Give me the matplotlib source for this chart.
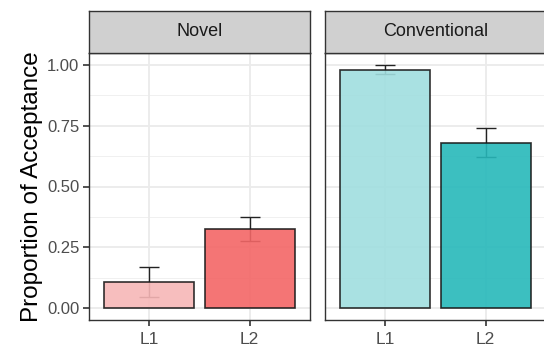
import matplotlib
matplotlib.use("Agg")
import matplotlib.pyplot as plt
import numpy as np

# data
PANELS = ["Novel", "Conventional"]
LEVELS = ["L1", "L2"]
MEANS = {"Novel": [0.105, 0.325], "Conventional": [0.98, 0.68]}
ERR_LOW = {"Novel": [0.043, 0.275], "Conventional": [0.962, 0.62]}
ERR_HIGH = {"Novel": [0.168, 0.375], "Conventional": [1.0, 0.74]}
Y_TICKS = [0.0, 0.25, 0.5, 0.75, 1.0]
Y_TICKLABELS = ["0.00", "0.25", "0.50", "0.75", "1.00"]

COLORS = {
    "Novel": ["#F7B7B7", "#F36666"],
    "Conventional": ["#A0DEDF", "#27B8BA"],
}

W, H = 544, 354
fig = plt.figure(figsize=(W / 100, H / 100), dpi=100)
plt.rcParams["font.family"] = "Liberation Sans"


def fx(px):
    return px / W


def fy(py):
    return 1 - py / H


panel_left = [89, 325]
panel_w = 221
strip_top, strip_bot, plot_bot = 11, 53, 320

for i, name in enumerate(PANELS):
    x0 = panel_left[i]
    ax = fig.add_axes([fx(x0), fy(plot_bot), panel_w / W, (plot_bot - strip_bot) / H])
    ax.set_xlim(0.4, 2.6)
    ax.set_ylim(-0.05, 1.05)
    xs = np.arange(1, len(LEVELS) + 1)

    # grid
    for y in Y_TICKS:
        ax.axhline(y, color="#EBEBEB", lw=1.3, zorder=0)
    for y in np.arange(0.125, 1.05, 0.25):
        ax.axhline(y, color="#F0F0F0", lw=0.7, zorder=0)
    for x in xs:
        ax.axvline(x, color="#EBEBEB", lw=1.3, zorder=0)

    m = np.array(MEANS[name])
    lo = np.array(ERR_LOW[name])
    hi = np.array(ERR_HIGH[name])
    ax.errorbar(xs, m, yerr=[m - lo, hi - m], fmt="none", ecolor="#222222",
                elinewidth=1.0, capsize=7.5, capthick=1.0, zorder=1)
    ax.bar(xs, m, width=0.9, color=COLORS[name], edgecolor="#1A1A1A",
           linewidth=1.2, alpha=0.9, zorder=2)

    for s in ax.spines.values():
        s.set_color("#333333")
        s.set_linewidth(1.0)

    ax.set_xticks(xs)
    ax.set_xticklabels(LEVELS, fontsize=12.5, color="#4D4D4D")
    ax.set_yticks(Y_TICKS)
    ax.tick_params(axis="both", length=4, width=1.2, color="#333333", pad=3)
    ax.tick_params(axis="x", pad=5)
    if i == 0:
        ax.set_yticklabels(Y_TICKLABELS, fontsize=12, color="#4D4D4D")
        ax.set_ylabel("Proportion of Acceptance", fontsize=17.5, color="black", labelpad=3)
    else:
        ax.set_yticklabels([])
        ax.tick_params(axis="y", length=0)

    # strip
    sax = fig.add_axes([fx(x0), fy(strip_bot), panel_w / W, (strip_bot - strip_top) / H])
    sax.set_facecolor("#D0D0D0")
    sax.set_xticks([])
    sax.set_yticks([])
    for s in sax.spines.values():
        s.set_color("#333333")
        s.set_linewidth(1.0)
    sax.text(0.5, 0.5, name, ha="center", va="center", fontsize=13,
             color="#1A1A1A", transform=sax.transAxes)

fig.savefig("out.png", dpi=100)
